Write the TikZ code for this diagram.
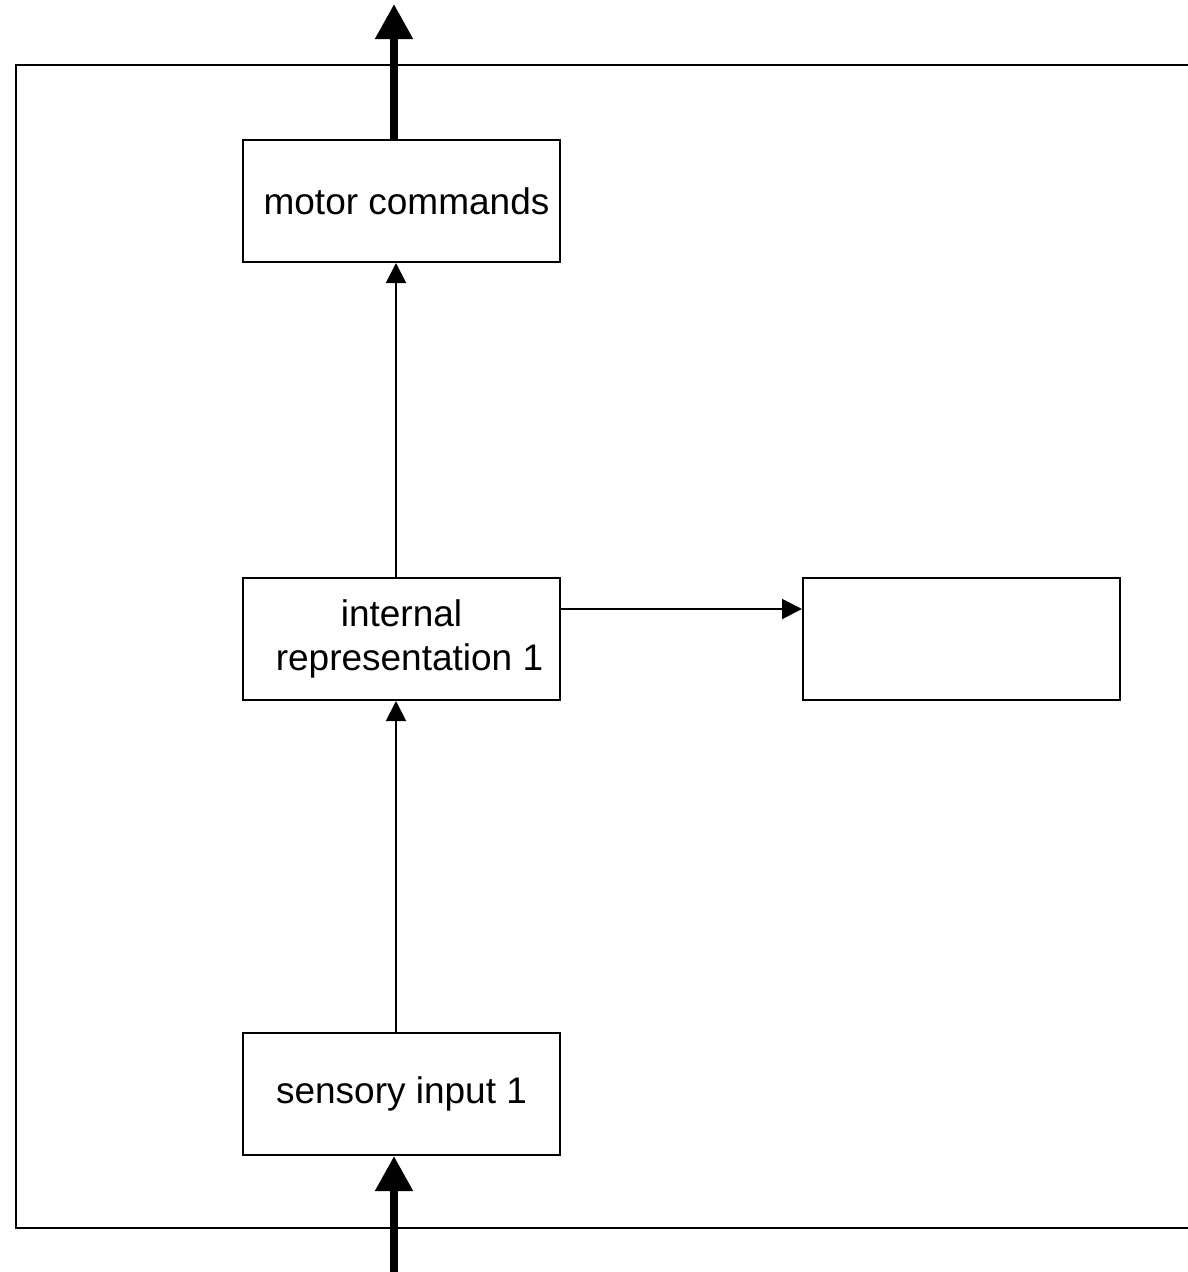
\documentclass[tikz,border=0pt]{standalone}
\usepackage{fontspec}
\setmainfont{Liberation Sans}
\usetikzlibrary{arrows.meta}
\begin{document}
\begin{tikzpicture}[x=1pt,y=-1pt,
  blk/.style={draw,line width=2pt,minimum width=317pt,minimum height=122pt,inner sep=0pt,align=center,font=\fontsize{37}{44}\selectfont},
  thin/.style={line width=2pt,-{Triangle[length=20pt,width=20pt]}},
  thick/.style={line width=8pt,-{Triangle[length=35pt,width=36pt]}}]
\useasboundingbox (0,0) rectangle (1188,1272);
\draw[line width=2pt] (1188,65) coordinate (ftr) -- (16,65) -- (16,1228) -- (1188,1228) coordinate (fbr);
\node[blk] (motor) at (401.5,201) {\hspace*{10pt}motor commands};
\node[blk] (intrep) at (401.5,639) {internal\\\hspace*{16pt}representation 1};
\node[blk] (right) at (961.5,639) {};
\node[blk] (sens) at (401.5,1094) {sensory input 1};
\coordinate (topend) at (394,4);
\coordinate (botstart) at (394,1272);
\draw[thick] (motor.north -| topend) -- (topend);
\draw[thick] (botstart) -- (sens.south -| botstart);
\draw[thin] (intrep.north -| 396,0) -- (motor.south -| 396,0);
\draw[thin] (sens.north -| 396,0) -- (intrep.south -| 396,0);
\draw[thin] (intrep.east |- 0,609) -- (right.west |- 0,609);
\end{tikzpicture}
\end{document}
